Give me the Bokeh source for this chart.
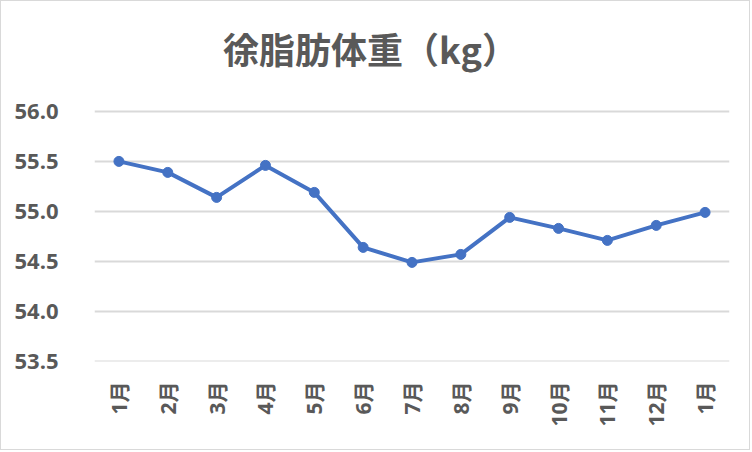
import math
from bokeh.plotting import figure
from bokeh.models import ColumnDataSource, FixedTicker, Range1d, Label
from bokeh.embed import file_html
from bokeh.resources import INLINE

months = ["1月", "2月", "3月", "4月", "5月", "6月", "7月", "8月", "9月", "10月", "11月", "12月", "1月"]
values = [55.50, 55.39, 55.14, 55.46, 55.19, 54.64, 54.49, 54.57, 54.94, 54.83, 54.71, 54.86, 54.99]
y_ticks = [53.5, 54.0, 54.5, 55.0, 55.5, 56.0]
title_text = "徐脂肪体重（kg）"

xs = list(range(len(months)))
src = ColumnDataSource(dict(x=xs, y=values))

# frame extends to the top of the canvas; the space above 56.0 hosts the title
p = figure(width=750, height=450, output_backend="svg", toolbar_location=None,
           x_range=Range1d(-0.5, len(months) - 0.5), y_range=Range1d(53.499, 57.099),
           min_border_left=93, min_border_right=22, min_border_top=0, min_border_bottom=90)
p.styles = {"border": "1px solid #d9d9d9"}
p.outline_line_color = None
p.background_fill_color = "white"
p.border_fill_color = "white"

p.line("x", "y", source=src, line_color="#4472C4", line_width=4, line_join="round")
p.scatter("x", "y", source=src, size=10, fill_color="#4472C4", line_color="#4472C4")

p.xgrid.grid_line_color = None
p.ygrid.grid_line_color = "#d9d9d9"
p.ygrid.grid_line_width = 2

p.yaxis.ticker = FixedTicker(ticks=y_ticks)
p.yaxis.major_label_overrides = {t: f"{t:.1f}" for t in y_ticks}
p.xaxis.ticker = FixedTicker(ticks=xs)
p.xaxis.major_label_overrides = {i: m for i, m in enumerate(months)}
p.xaxis.major_label_orientation = math.pi / 2

for ax in (p.xaxis, p.yaxis):
    ax.axis_line_color = None
    ax.major_tick_line_color = None
    ax.minor_tick_line_color = None
    ax.major_label_text_color = "#595959"
    ax.major_label_text_font = "'Open Sans', 'Noto Sans CJK JP'"
    ax.major_label_text_font_style = "bold"
p.yaxis.major_label_text_font_size = "22px"
p.yaxis.major_label_standoff = 30
p.xaxis.major_label_text_font_size = "21px"
p.xaxis.major_label_standoff = 14

title = Label(x=276, y=314, x_units="screen", y_units="screen", text=title_text,
              text_align="center", text_baseline="middle", text_font="Noto Sans CJK JP",
              text_font_size="36px", text_font_style="bold", text_color="#595959")
p.add_layout(title)

open("out.html", "w").write(file_html(p, INLINE))
